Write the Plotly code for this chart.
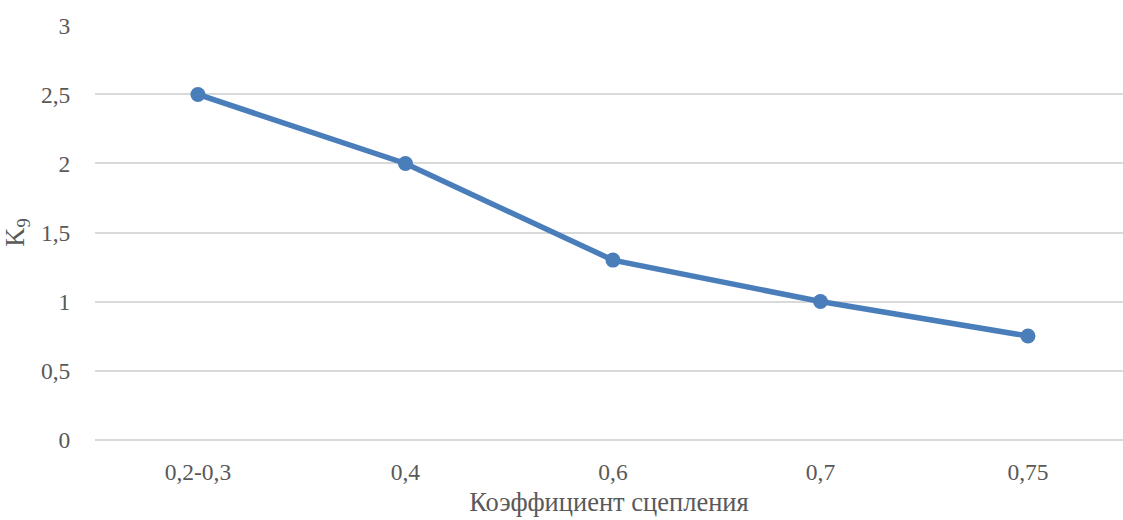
import plotly.graph_objects as go

categories = ["0,2-0,3", "0,4", "0,6", "0,7", "0,75"]
k9_values = [2.5, 2.0, 1.3, 1.0, 0.75]
y_ticks = [0, 0.5, 1, 1.5, 2, 2.5, 3]
y_tick_labels = ["0", "0,5", "1", "1,5", "2", "2,5", "3"]

font_family = "Liberation Serif"
text_color = "#595959"
grid_color = "#d9d9d9"
line_color = "#4a7ebb"

fig = go.Figure(
    go.Scatter(
        x=list(range(len(categories))),
        y=k9_values,
        mode="lines+markers",
        line=dict(color=line_color, width=5.5),
        marker=dict(color=line_color, size=15),
        hoverinfo="skip",
    )
)

fig.update_layout(
    width=1123,
    height=520,
    margin=dict(l=95, r=0, t=25, b=80),
    paper_bgcolor="white",
    plot_bgcolor="white",
    showlegend=False,
    font=dict(family=font_family, size=23.5, color=text_color),
)

fig.update_xaxes(
    range=[-0.496, 4.458],
    tickmode="array",
    tickvals=list(range(len(categories))),
    ticktext=categories,
    showgrid=False,
    zeroline=False,
    showline=False,
    ticks="outside",
    ticklen=11,
    tickcolor="rgba(0,0,0,0)",
    title=dict(text="Коэффициент сцепления", font=dict(size=26.5), standoff=8),
)

fig.update_yaxes(
    range=[-0.003, 3.003],
    tickmode="array",
    tickvals=y_ticks,
    ticktext=y_tick_labels,
    showgrid=True,
    gridcolor=grid_color,
    gridwidth=2,
    zeroline=True,
    zerolinecolor=grid_color,
    zerolinewidth=2,
    showline=False,
    ticks="outside",
    ticklen=19,
    tickcolor="rgba(0,0,0,0)",
    title=dict(text="K<sub>9</sub>", font=dict(size=26.5), standoff=9),
)

fig.write_html("out.html")
